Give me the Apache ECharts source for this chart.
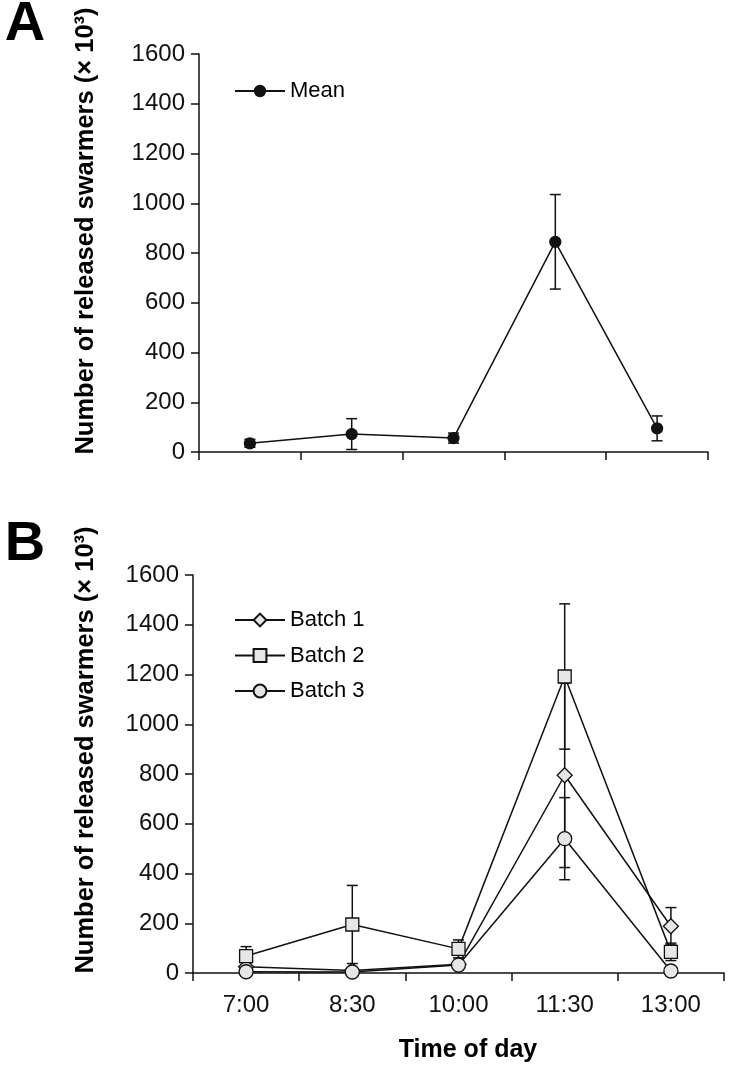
<!DOCTYPE html>
<html><head><meta charset="utf-8">
<script src="https://cdn.jsdelivr.net/npm/echarts@6/dist/echarts.min.js"></script>
<style>html,body{margin:0;padding:0;background:#fff}#c{width:729px;height:1067px}</style>
</head><body><div id="c"></div>
<script>
// ---- data ----
const categories = ['7:00', '8:30', '10:00', '11:30', '13:00'];
const yMin = 0, yMax = 1600, yStep = 200;
const meanValues = [35, 72, 56, 845, 95];
const meanErrors = [16, 62, 20, 190, 50];
const batch1Values = [25, 10, 35, 795, 188];
const batch1Errors = [10, 10, 10, 371, 75];
const batch2Values = [68, 195, 97, 1192, 85];
const batch2Errors = [38, 157, 36, 292, 35];
const batch3Values = [5, 4, 32, 540, 8];
const batch3Errors = [5, 4, 8, 165, 5];

const FONT = '"Liberation Sans", Arial, sans-serif';
const INK = '#111';
const FILL = '#e6e6e6';

function errData(vals, errs) {
  return vals.map((v, i) => [i, v - errs[i], v + errs[i]]);
}
function errSeries(name, axisIdx, vals, errs) {
  return {
    type: 'custom', name: name, xAxisIndex: axisIdx, yAxisIndex: axisIdx, z: 1,
    data: errData(vals, errs),
    renderItem: function (params, api) {
      const x = api.value(0);
      const lo = api.coord([x, api.value(1)]);
      const hi = api.coord([x, api.value(2)]);
      const hw = 5.5;
      const st = { stroke: INK, lineWidth: 1.5 };
      return { type: 'group', children: [
        { type: 'line', shape: { x1: lo[0], y1: lo[1], x2: hi[0], y2: hi[1] }, style: st },
        { type: 'line', shape: { x1: lo[0] - hw, y1: lo[1], x2: lo[0] + hw, y2: lo[1] }, style: st },
        { type: 'line', shape: { x1: hi[0] - hw, y1: hi[1], x2: hi[0] + hw, y2: hi[1] }, style: st }
      ]};
    }
  };
}
function lineSeries(name, axisIdx, vals, symbol, size, fill) {
  return {
    type: 'line', name: name, xAxisIndex: axisIdx, yAxisIndex: axisIdx, z: 3,
    data: vals, symbol: symbol, symbolSize: size, showAllSymbol: true,
    lineStyle: { color: INK, width: 1.5 },
    itemStyle: { color: fill, borderColor: INK, borderWidth: 1.3 }
  };
}
function yAxisCfg(idx) {
  return {
    gridIndex: idx, type: 'value', min: yMin, max: yMax, interval: yStep,
    axisLine: { show: true, lineStyle: { color: INK, width: 1.5 } },
    axisTick: { show: true, length: 8, lineStyle: { color: INK, width: 1.5 } },
    axisLabel: { fontSize: 24, color: INK, margin: 14, fontFamily: FONT, formatter: v => String(v) },
    splitLine: { show: false }
  };
}
function xAxisCfg(idx, showLabels) {
  return {
    gridIndex: idx, type: 'category', data: categories, boundaryGap: true,
    axisLine: { show: true, lineStyle: { color: INK, width: 1.5 } },
    axisTick: { show: true, length: 8, lineStyle: { color: INK, width: 1.5 } },
    axisLabel: { show: showLabels, fontSize: 24, color: INK, margin: 20, fontFamily: FONT },
    splitLine: { show: false }
  };
}
const yTitle = 'Number of released swarmers (\u00d7 10\u00b3)';
function txt(x, y, text, font, rot) {
  return { type: 'text', x: x, y: y, rotation: rot || 0, z: 10,
    style: { text: text, font: font, fill: '#000', textAlign: 'center', textVerticalAlign: 'middle', align: 'center', verticalAlign: 'middle' } };
}

const chart = echarts.init(document.getElementById('c'), null, { renderer: 'canvas' });
chart.setOption({
  animation: false,
  backgroundColor: '#fff',
  grid: [
    { left: 199, top: 54, width: 509, height: 398 },
    { left: 193, top: 575, width: 531, height: 398 }
  ],
  xAxis: [xAxisCfg(0, false), xAxisCfg(1, true)],
  yAxis: [yAxisCfg(0), yAxisCfg(1)],
  legend: [
    { data: ['Mean'], orient: 'vertical', left: 229, top: 75, itemWidth: 50, itemHeight: 13,
      textStyle: { fontSize: 22, color: '#000', fontFamily: FONT, lineHeight: 22 } },
    { data: ['Batch 1', 'Batch 2', 'Batch 3'], orient: 'vertical', left: 229, top: 604, itemWidth: 50, itemHeight: 16,
      itemGap: 13.5, textStyle: { fontSize: 22, color: '#000', fontFamily: FONT, lineHeight: 22 } }
  ],
  graphic: [
    txt(25, 25, 'A', 'bold 56px ' + FONT),
    txt(25, 545, 'B', 'bold 56px ' + FONT),
    txt(86, 231, yTitle, 'bold 25.5px ' + FONT, Math.PI / 2),
    txt(86, 750, yTitle, 'bold 25.5px ' + FONT, Math.PI / 2),
    txt(468, 1050, 'Time of day', 'bold 25px ' + FONT)
  ],
  series: [
    errSeries('errMean', 0, meanValues, meanErrors),
    lineSeries('Mean', 0, meanValues, 'circle', 11, INK),
    errSeries('err1', 1, batch1Values, batch1Errors),
    errSeries('err2', 1, batch2Values, batch2Errors),
    errSeries('err3', 1, batch3Values, batch3Errors),
    lineSeries('Batch 1', 1, batch1Values, 'diamond', 15, FILL),
    lineSeries('Batch 2', 1, batch2Values, 'rect', 13, FILL),
    lineSeries('Batch 3', 1, batch3Values, 'circle', 14, FILL)
  ]
});
</script></body></html>
